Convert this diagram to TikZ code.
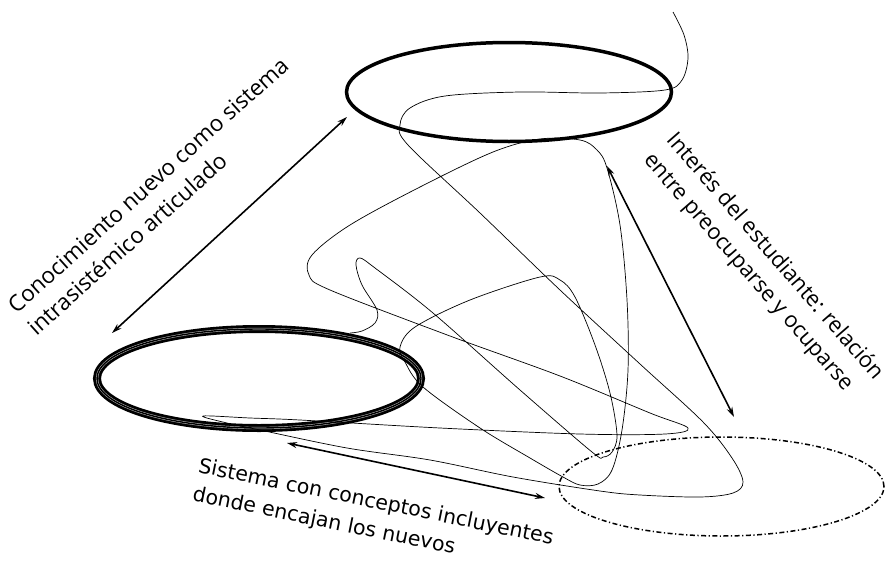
\documentclass[tikz,border=0pt]{standalone}
\usepackage{fontspec}
\setmainfont{Open Sans}
\newfontfamily\verdfont{DejaVu Sans}
\usetikzlibrary{arrows.meta,shapes.geometric}

\begin{document}
\begin{tikzpicture}[x=1pt,y=-1pt,
  ring/.style={draw, ellipse, inner sep=0pt, minimum width=325pt, minimum height=99pt},
  lab/.style={align=left, font=\fontsize{22.5}{30}\selectfont},
  link/.style={line width=1.6pt, {Stealth[length=10pt,width=6pt]}-{Stealth[length=10pt,width=6pt]}},
  hilo/.style={line width=0.7pt}
]
\useasboundingbox (0,0) rectangle (888,562);

\node[ring, line width=3.5pt] (nuevo) at (509,92) {};
\node[ring, line width=8pt, minimum width=324pt] (previo) at (259,378.5) {};
\node[ring, draw=gray!45, line width=0.45pt, double=black, double distance=1.4pt, minimum width=324pt] (previob) at (259,378.5) {};
\node[ring, line width=1.5pt, dash pattern=on 5pt off 2.5pt on 1.2pt off 2.5pt] (incluye) at (721.5,486.5) {};

\draw[hilo] plot[smooth, tension=0.55] coordinates {
  (673,12) (684,35) (688,58) (682,80) (665,90) (600,93) (520,92) (445,96)
  (410,108) (400,125) (408,145) (480,213) (560,290) (640,364) (703,422)
  (732,458) (743,482) (733,493) (700,497) (640,495) (600,491) (513,477)
  (430,460) (347,448) (260,430) (227,423) (203,416) (250,418) (300,420)
  (440,428) (580,434) (665,434) (688,428) (650,413) (560,376) (450,336)
  (330,290) (309,275) (312,255) (350,225) (420,187) (493,152) (540,139)
  (580,140) (597,150) (607,168) (620,225) (627,300) (628,370) (622,430)
  (612,470) (598,484) (580,485) (563,477) (530,458) (480,428) (423,387)
  (405,362) (400,347) (415,327) (470,300) (540,277) (560,280) (575,297)
  (595,345) (610,393) (617,435) (612,452) (603,457) (592,452) (520,390)
  (433,313) (375,268) (360,258) (356,265) (362,285) (377,310) (375,323)
  (362,331) (350,333)};

\coordinate (c1) at (112,333);
\coordinate (c2) at (347,117);
\coordinate (i1) at (607,166);
\coordinate (i2) at (734,417);
\coordinate (s1) at (287,443);
\coordinate (s2) at (545,498);
\draw[link] (c1) -- (c2);
\draw[link] (i1) -- (i2);
\draw[link] (s1) -- (s2);

\node[lab, rotate=42] (conoc) at (158,196) {Conocimiento nuevo como sistema\\intrasistémico articulado};
\node[lab, rotate=-49, font=\fontsize{22}{30}\selectfont] (interes) at (763,267) {Interés del estudiante: relación\\entre preocuparse y ocuparse};
\node[lab, rotate=-11.5, font=\verdfont\fontsize{20.5}{29}\selectfont] (sistema) at (373,517) {Sistema con conceptos incluyentes\\donde encajan los nuevos};
\end{tikzpicture}
\end{document}
